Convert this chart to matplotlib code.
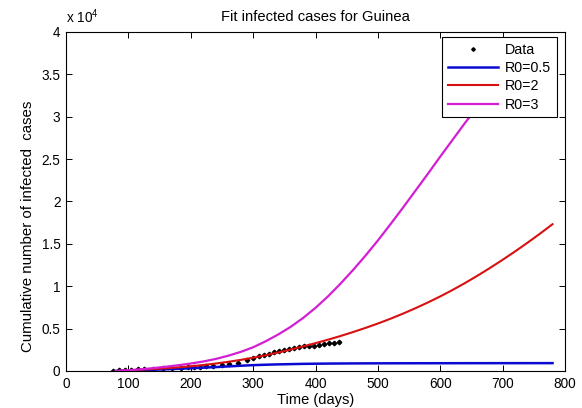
import matplotlib
matplotlib.use("Agg")
from matplotlib import pyplot as plt

# Observed cumulative cases for Guinea
data_days = [76, 85, 95, 105, 115, 125, 140, 155, 170, 185, 195, 205, 215, 225,
             235, 250, 262, 275, 290, 300, 310, 318, 326, 334, 342, 350, 358, 366,
             374, 382, 390, 398, 406, 414, 422, 430, 438]
data_cases = [50, 100, 130, 170, 200, 230, 260, 300, 350, 400, 430, 460, 500, 550,
              600, 700, 850, 950, 1300, 1550, 1750, 1900, 2050, 2200, 2350, 2500, 2650, 2750,
              2850, 2900, 2950, 3000, 3050, 3150, 3250, 3350, 3450]

# Model fits (one value every 20 days from day 80 to day 780)
fit_days = [80, 100, 120, 140, 160, 180, 200, 220, 240, 260, 280, 300, 320, 340,
            360, 380, 400, 420, 440, 460, 480, 500, 520, 540, 560, 580, 600, 620,
            640, 660, 680, 700, 720, 740, 760, 780]
fit_r05 = [0, 50, 100, 150, 200, 260, 320, 390, 460, 540, 620, 690, 740, 780,
           810, 840, 860, 875, 885, 895, 900, 905, 908, 911, 913, 915, 917, 919,
           920, 922, 923, 924, 925, 926, 927, 928]
fit_r2 = [0, 80, 155, 235, 325, 430, 555, 705, 880, 1080, 1310, 1570, 1860, 2180,
          2525, 2895, 3285, 3695, 4125, 4590, 5080, 5600, 6160, 6760, 7400, 8080, 8800, 9570,
          10390, 11260, 12170, 13120, 14110, 15140, 16210, 17320]
fit_r3 = [0, 90, 200, 340, 500, 680, 880, 1120, 1420, 1800, 2250, 2800, 3500, 4300,
          5200, 6250, 7450, 8800, 10300, 11900, 13600, 15400, 17300, 19250, 21250, 23250, 25300, 27300,
          29300, 31200, 33000, 34600, 36000, 37200, 38100, 38800]

x_ticks = [0, 100, 200, 300, 400, 500, 600, 700, 800]
y_ticks = [0, 5000, 10000, 15000, 20000, 25000, 30000, 35000, 40000]
y_tick_labels = ["0", "0.5", "1", "1.5", "2", "2.5", "3", "3.5", "4"]

plt.rcParams["font.family"] = ["Liberation Sans", "DejaVu Sans"]
plt.rcParams["mathtext.default"] = "regular"

fig = plt.figure(figsize=(5.82, 4.08), dpi=100)
ax = fig.add_axes([0.1134, 0.0907, 0.8574, 0.8309])

ax.plot(data_days, data_cases, linestyle="none", marker="D", markersize=2.3,
        color="black", label="Data")
ax.plot(fit_days, fit_r05, color="#0a0ad0", linewidth=1.8, label="R0=0.5")
ax.plot(fit_days, fit_r2, color="#d81010", linewidth=1.5, label="R0=2")
ax.plot(fit_days, fit_r3, color="#d41ed4", linewidth=1.6, label="R0=3")

ax.set_xlim(0, 800)
ax.set_ylim(0, 40000)
ax.set_xticks(x_ticks)
ax.set_yticks(y_ticks)
ax.set_yticklabels(y_tick_labels)
ax.tick_params(direction="in", top=True, right=True, length=4, width=0.7,
               labelsize=9.8, pad=4)
for spine in ax.spines.values():
    spine.set_linewidth(0.8)

ax.set_title("Fit infected cases for Guinea", fontsize=10.6, pad=8)
ax.set_xlabel("Time (days)", fontsize=10.5, labelpad=2)
ax.set_ylabel("Cumulative number of infected  cases", fontsize=10.8)
ax.yaxis.set_label_coords(-0.063, 0.428)

ax.annotate("x 10$^{4}$", xy=(0, 1), xycoords="axes fraction",
            xytext=(0, 4), textcoords="offset points",
            ha="left", va="bottom", fontsize=9.8)

leg = ax.legend(loc="upper right", bbox_to_anchor=(0.984, 0.985), borderaxespad=0,
                fancybox=False, framealpha=1, edgecolor="black", fontsize=10.3,
                handlelength=3.5, labelspacing=0.3, borderpad=0.4, handletextpad=0.5,
                markerscale=0.8)
leg.get_frame().set_linewidth(0.8)

fig.savefig("out.png", dpi=100, facecolor="white")
